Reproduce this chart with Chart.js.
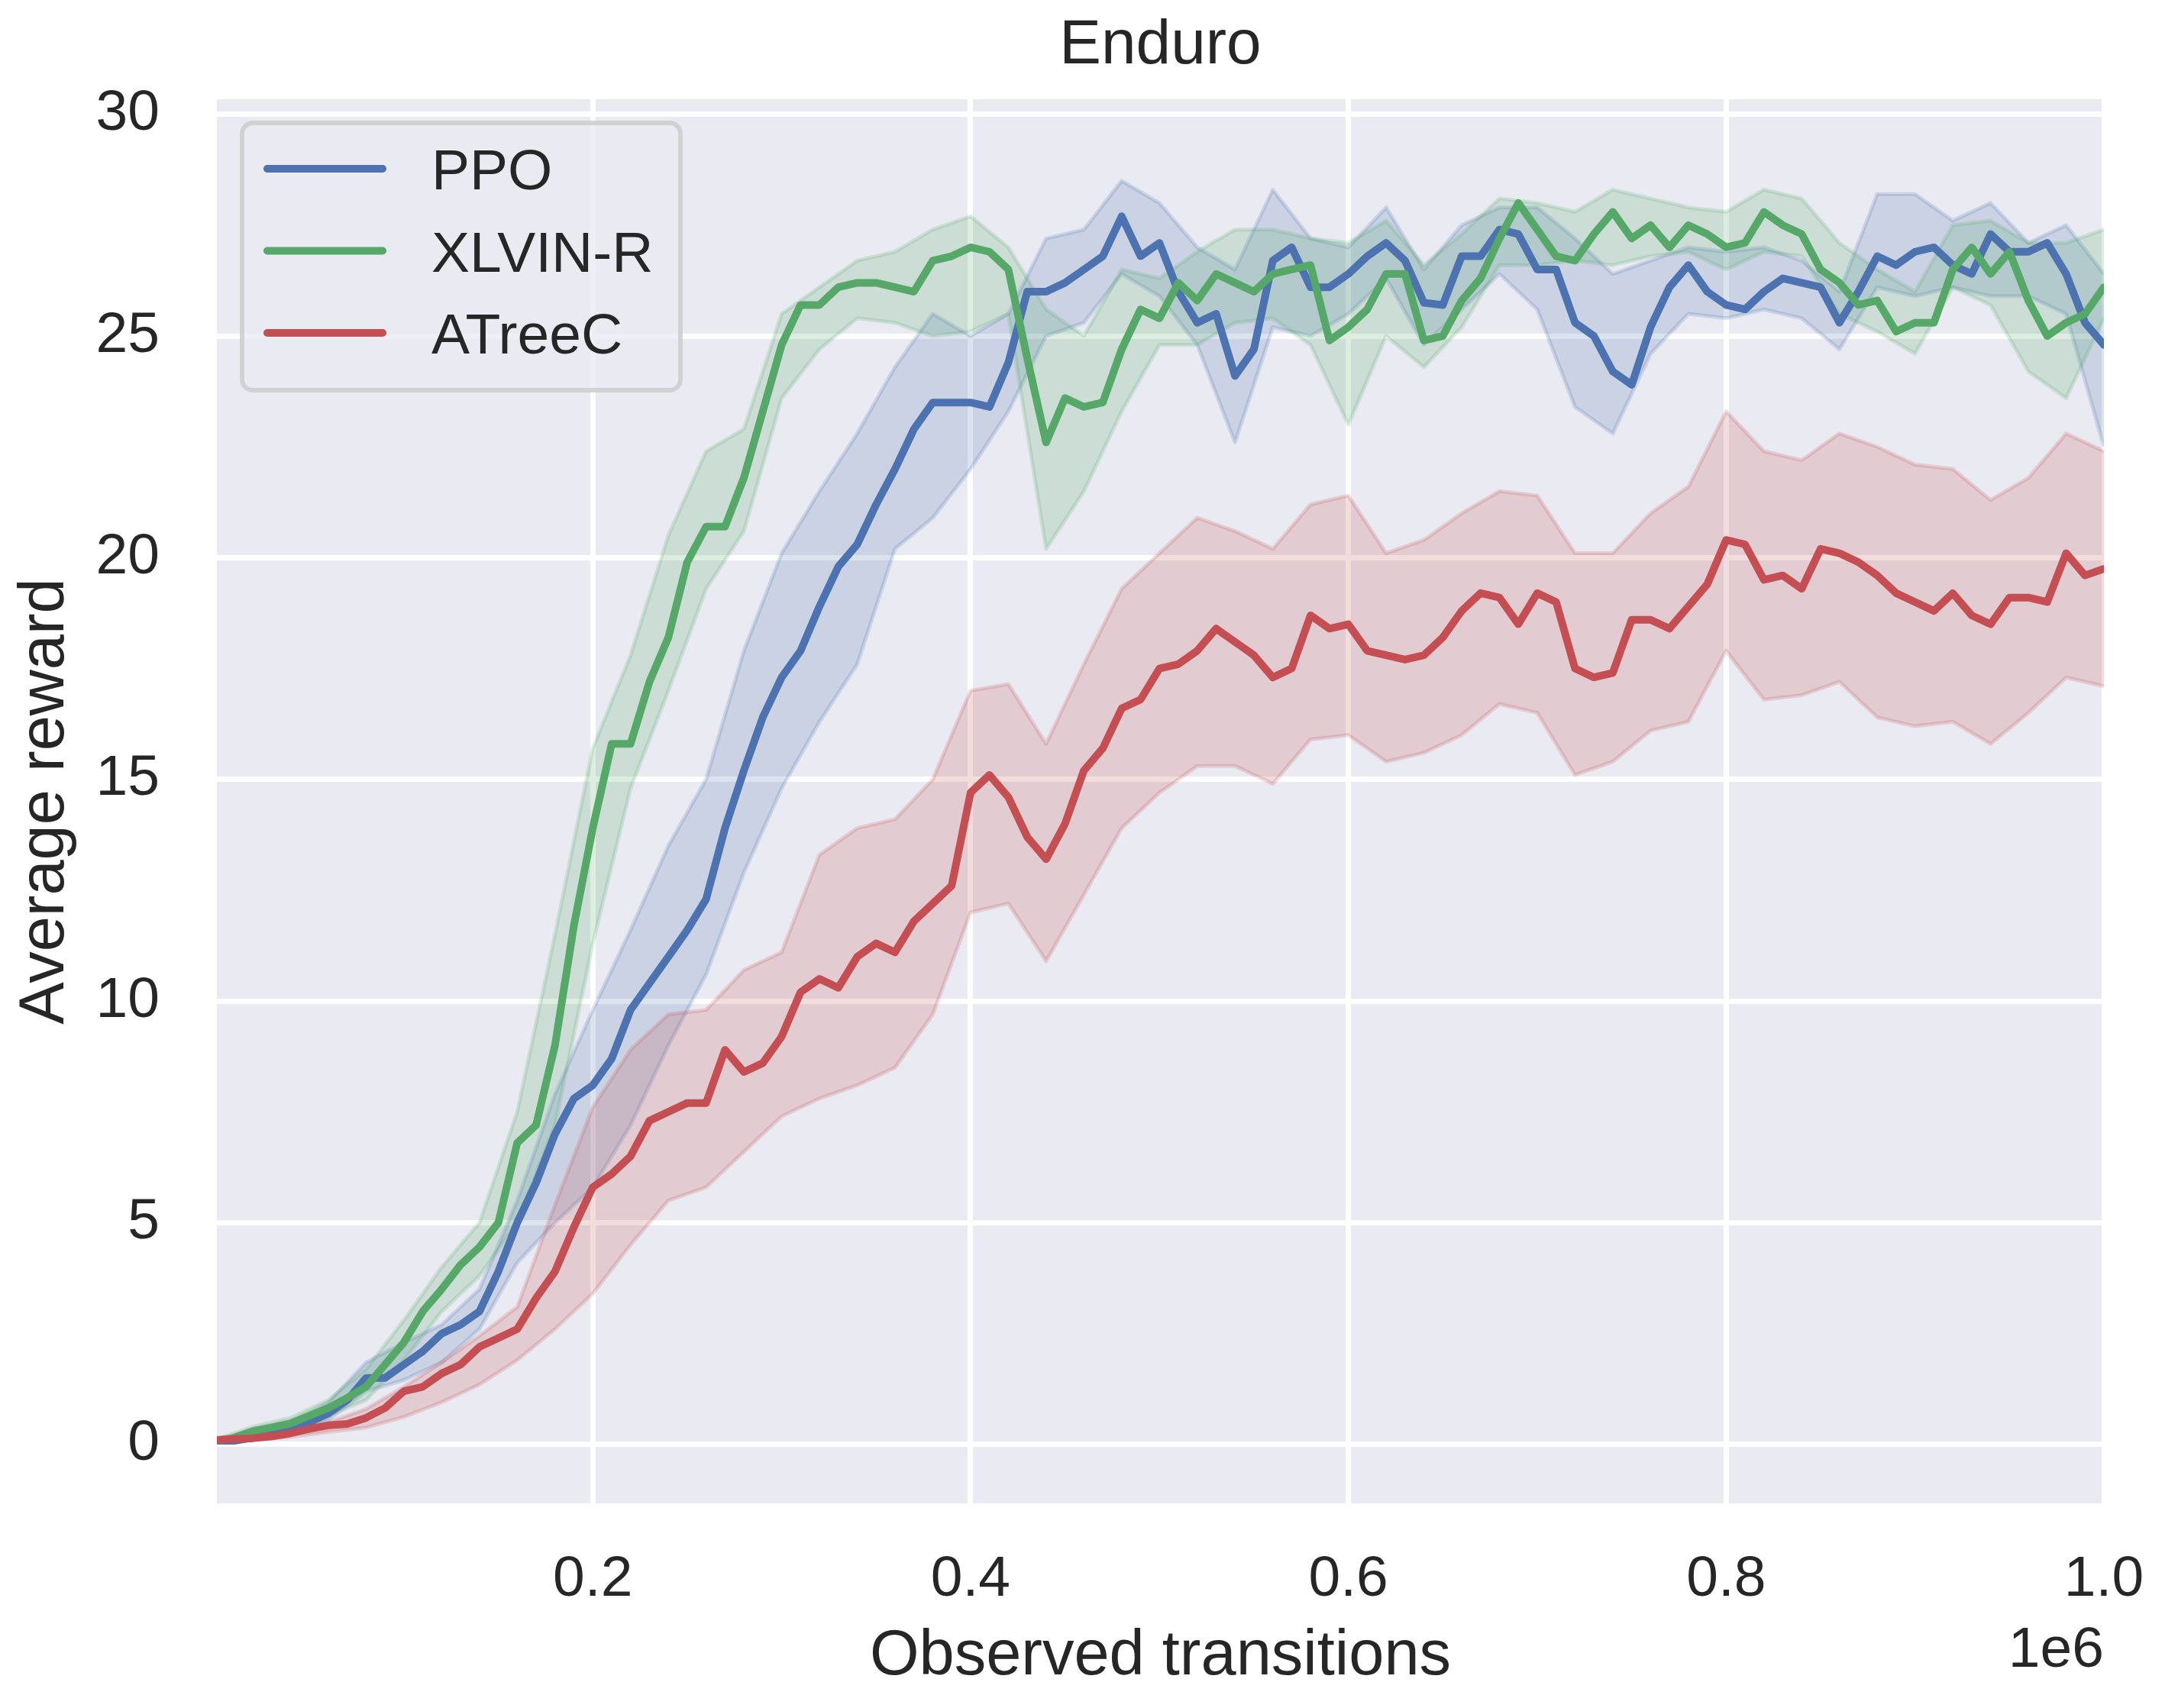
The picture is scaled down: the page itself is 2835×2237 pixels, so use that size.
<!DOCTYPE html>
<html>
<head>
<meta charset="utf-8">
<script src="https://cdn.jsdelivr.net/npm/chart.js@4.4.1/dist/chart.umd.min.js"></script>
<style>
  html, body { margin: 0; padding: 0; background: #ffffff; }
  #wrap { width: 2835px; height: 2237px; }
</style>
</head>
<body>
<div id="wrap"><canvas id="chart" width="2835" height="2237"></canvas></div>
<script>
// x positions of the curves, in thousands of observed transitions
const meanSteps = [1, 10, 20, 30, 40, 50, 60, 70, 80, 90,
  100, 110, 120, 130, 140, 150, 160, 170, 180, 190,
  200, 210, 220, 230, 240, 250, 260, 270, 280, 290,
  300, 310, 320, 330, 340, 350, 360, 370, 380, 390,
  400, 410, 420, 430, 440, 450, 460, 470, 480, 490,
  500, 510, 520, 530, 540, 550, 560, 570, 580, 590,
  600, 610, 620, 630, 640, 650, 660, 670, 680, 690,
  700, 710, 720, 730, 740, 750, 760, 770, 780, 790,
  800, 810, 820, 830, 840, 850, 860, 870, 880, 890,
  900, 910, 920, 930, 940, 950, 960, 970, 980, 990,
  1000];
const bandSteps = [1, 20, 40, 60, 80, 100, 120, 140, 160, 180,
  200, 220, 240, 260, 280, 300, 320, 340, 360, 380,
  400, 420, 440, 460, 480, 500, 520, 540, 560, 580,
  600, 620, 640, 660, 680, 700, 720, 740, 760, 780,
  800, 820, 840, 860, 880, 900, 920, 940, 960, 980,
  1000];

const seriesNames = ["PPO", "XLVIN-R", "ATreeC"];

const ppoMean = [0.08, 0.08, 0.15, 0.25, 0.33, 0.5, 0.7, 1.0, 1.5, 1.5,
  1.8, 2.1, 2.5, 2.7, 3.0, 3.9, 5.0, 5.9, 7.0, 7.8,
  8.1, 8.7, 9.8, 10.4, 11.0, 11.6, 12.3, 13.9, 15.2, 16.4,
  17.3, 17.9, 18.9, 19.8, 20.3, 21.2, 22.0, 22.9, 23.5, 23.5,
  23.5, 23.4, 24.4, 26.0, 26.0, 26.2, 26.5, 26.8, 27.7, 26.8,
  27.1, 26.0, 25.3, 25.5, 24.1, 24.7, 26.7, 27.0, 26.1, 26.1,
  26.4, 26.8, 27.1, 26.7, 25.75, 25.7, 26.8, 26.8, 27.4, 27.3,
  26.5, 26.5, 25.3, 25.0, 24.2, 23.9, 25.2, 26.1, 26.6, 26.0,
  25.7, 25.6, 26.0, 26.3, 26.2, 26.1, 25.3, 26.0, 26.8, 26.6,
  26.9, 27.0, 26.6, 26.4, 27.3, 26.9, 26.9, 27.1, 26.4, 25.3,
  24.8];
const ppoHigh = [0.12, 0.22, 0.45, 0.95, 1.85, 2.3, 2.7, 3.5, 5.5, 7.9,
  9.8, 11.6, 13.5, 15.0, 17.9, 20.1, 21.5, 22.8, 24.3, 25.5,
  25.0, 25.5, 27.2, 27.4, 28.5, 28.0, 27.0, 26.5, 28.3, 27.2,
  27.0, 27.9, 26.5, 27.5, 27.9, 27.9, 27.2, 26.4, 26.7, 27.0,
  26.9, 27.0, 26.7, 26.0, 28.2, 28.2, 27.6, 28.0, 27.1, 27.5,
  26.4];
const ppoLow = [0.04, 0.1, 0.22, 0.55, 1.2, 1.45, 1.85, 2.6, 4.1, 5.0,
  5.8, 7.2, 9.0, 10.6, 12.9, 14.8, 16.3, 17.6, 20.2, 20.9,
  22.0, 23.3, 25.0, 25.3, 26.4, 25.9, 24.8, 22.6, 25.2, 25.0,
  25.5, 26.3, 24.8, 25.6, 26.4, 25.6, 23.4, 22.8, 24.6, 25.5,
  25.4, 25.6, 25.4, 24.7, 26.1, 25.9, 26.1, 25.9, 25.9, 25.5,
  22.5];

const xlvinMean = [0.08, 0.15, 0.3, 0.38, 0.47, 0.65, 0.82, 1.05, 1.3, 1.8,
  2.3, 3.0, 3.5, 4.05, 4.45, 5.0, 6.8, 7.2, 9.0, 11.7,
  13.9, 15.8, 15.8, 17.2, 18.2, 19.9, 20.7, 20.7, 21.8, 23.3,
  24.8, 25.7, 25.7, 26.1, 26.2, 26.2, 26.1, 26.0, 26.7, 26.8,
  27.0, 26.9, 26.5, 24.5, 22.6, 23.6, 23.4, 23.5, 24.7, 25.6,
  25.4, 26.2, 25.8, 26.4, 26.2, 26.0, 26.4, 26.5, 26.6, 24.9,
  25.2, 25.6, 26.4, 26.4, 24.9, 25.0, 25.8, 26.3, 27.2, 28.0,
  27.4, 26.8, 26.7, 27.3, 27.8, 27.2, 27.5, 27.0, 27.5, 27.3,
  27.0, 27.1, 27.8, 27.5, 27.3, 26.5, 26.2, 25.7, 25.8, 25.1,
  25.3, 25.3, 26.5, 27.0, 26.4, 26.9, 25.8, 25.0, 25.3, 25.5,
  26.1];
const xlvinHigh = [0.12, 0.4, 0.6, 1.0, 1.7, 2.8, 4.0, 5.0, 7.5, 11.5,
  15.7, 17.8, 20.5, 22.4, 22.9, 25.5, 26.1, 26.7, 26.9, 27.4,
  27.7, 27.0, 25.6, 25.0, 26.5, 26.3, 26.9, 27.4, 27.4, 27.2,
  27.1, 27.6, 26.6, 27.3, 28.1, 28.0, 27.8, 28.3, 28.1, 27.9,
  27.8, 28.3, 28.1, 27.1, 26.5, 26.0, 27.5, 27.6, 27.1, 27.1,
  27.4];
const xlvinLow = [0.04, 0.2, 0.35, 0.65, 1.0, 1.9, 3.0, 3.8, 5.0, 7.2,
  11.3, 14.8, 17.0, 19.3, 20.6, 23.6, 24.7, 25.4, 25.3, 25.0,
  25.1, 25.5, 20.2, 21.5, 23.3, 24.8, 24.8, 25.3, 25.4, 24.8,
  23.0, 25.0, 24.3, 25.2, 26.6, 26.6, 26.7, 26.6, 26.8, 26.9,
  26.5, 26.9, 26.8, 25.5, 25.1, 24.6, 26.1, 25.7, 24.2, 23.6,
  25.4];

const atreecMean = [0.1, 0.12, 0.14, 0.18, 0.25, 0.35, 0.43, 0.46, 0.6, 0.82,
  1.2, 1.3, 1.6, 1.8, 2.2, 2.4, 2.6, 3.3, 3.9, 4.9,
  5.8, 6.1, 6.5, 7.3, 7.5, 7.7, 7.7, 8.9, 8.4, 8.6,
  9.2, 10.2, 10.5, 10.3, 11.0, 11.3, 11.1, 11.8, 12.2, 12.6,
  14.7, 15.1, 14.6, 13.7, 13.2, 14.0, 15.2, 15.7, 16.6, 16.8,
  17.5, 17.6, 17.9, 18.4, 18.1, 17.8, 17.3, 17.5, 18.7, 18.4,
  18.5, 17.9, 17.8, 17.7, 17.8, 18.2, 18.8, 19.2, 19.1, 18.5,
  19.2, 19.0, 17.5, 17.3, 17.4, 18.6, 18.6, 18.4, 18.9, 19.4,
  20.4, 20.3, 19.5, 19.6, 19.3, 20.2, 20.1, 19.9, 19.6, 19.2,
  19.0, 18.8, 19.2, 18.7, 18.5, 19.1, 19.1, 19.0, 20.1, 19.6,
  19.75];
const atreecHigh = [0.15, 0.2, 0.33, 0.5, 0.8, 1.3, 1.85, 2.45, 3.1, 5.4,
  7.6, 8.9, 9.7, 9.8, 10.7, 11.1, 13.3, 13.9, 14.1, 15.0,
  17.0, 17.15, 15.8, 17.6, 19.3, 20.1, 20.9, 20.6, 20.2, 21.2,
  21.4, 20.1, 20.4, 21.0, 21.5, 21.4, 20.1, 20.1, 21.0, 21.6,
  23.3, 22.4, 22.2, 22.8, 22.5, 22.1, 22.0, 21.3, 21.8, 22.8,
  22.4];
const atreecLow = [0.05, 0.1, 0.17, 0.28, 0.38, 0.62, 0.95, 1.35, 1.9, 2.6,
  3.4, 4.5, 5.5, 5.8, 6.6, 7.4, 7.8, 8.1, 8.5, 9.7,
  12.0, 12.2, 10.9, 12.4, 13.9, 14.7, 15.3, 15.3, 14.9, 15.9,
  16.0, 15.4, 15.6, 16.0, 16.7, 16.5, 15.1, 15.4, 16.1, 16.3,
  17.9, 16.8, 16.9, 17.2, 16.4, 16.2, 16.3, 15.8, 16.5, 17.3,
  17.1];

const xTicks = [200000, 400000, 600000, 800000, 1000000];
const yTicks = [0, 5, 10, 15, 20, 25, 30];

const colors = ["76,114,176", "85,168,104", "196,78,82"];
const textColor = "#262626";
const fontFamily = "'Liberation Sans', Arial, sans-serif";

const toPoints = (steps, vals) => steps.map((s, i) => ({ x: s * 1000, y: vals[i] }));

const meanSet = (label, vals, col, order) => ({
  label: label,
  data: toPoints(meanSteps, vals),
  borderColor: `rgb(${col})`,
  backgroundColor: `rgb(${col})`,
  borderWidth: 10,
  borderCapStyle: "round",
  borderJoinStyle: "round",
  pointRadius: 0,
  tension: 0,
  fill: false,
  order: order,
});
const bandSet = (vals, col, order, target) => ({
  label: "",
  data: toPoints(bandSteps, vals),
  borderColor: `rgba(${col},0.2)`,
  backgroundColor: `rgba(${col},0.2)`,
  borderWidth: 5,
  borderJoinStyle: "round",
  pointRadius: 0,
  tension: 0,
  fill: target === undefined ? false : target,
  order: order,
});

const areaBackground = {
  id: "areaBackground",
  beforeDraw(chart) {
    const { ctx, chartArea: { left, top, width, height } } = chart;
    ctx.save();
    ctx.fillStyle = "#EAEAF2";
    ctx.fillRect(left, top, width, height);
    ctx.restore();
  },
};

const textDeco = {
  id: "textDeco",
  afterDraw(chart) {
    const { ctx, chartArea: { left, right, top, bottom } } = chart;
    const midX = (left + right) / 2;
    ctx.save();
    ctx.fillStyle = textColor;
    ctx.textAlign = "center";
    ctx.textBaseline = "alphabetic";
    ctx.font = `82px ${fontFamily}`;
    ctx.fillText("Enduro", midX, 83);
    ctx.font = `83px ${fontFamily}`;
    ctx.fillText("Observed transitions", midX, 2193);
    ctx.save();
    ctx.translate(83, (top + bottom) / 2);
    ctx.rotate(-Math.PI / 2);
    ctx.fillText("Average reward", 0, 0);
    ctx.restore();
    ctx.textAlign = "right";
    ctx.font = `75px ${fontFamily}`;
    ctx.fillText("1e6", right, 2183);
    ctx.restore();
  },
};

const boxLegend = {
  id: "boxLegend",
  afterDraw(chart) {
    const { ctx, chartArea: { left, top } } = chart;
    const x0 = left + 33, y0 = top + 31, w = 574, h = 350, r = 14;
    ctx.save();
    ctx.beginPath();
    ctx.roundRect(x0, y0, w, h, r);
    ctx.fillStyle = "rgba(234,234,242,0.8)";
    ctx.fill();
    ctx.lineWidth = 6;
    ctx.strokeStyle = "rgba(204,204,204,0.85)";
    ctx.stroke();
    ctx.font = `75px ${fontFamily}`;
    ctx.textAlign = "left";
    ctx.textBaseline = "alphabetic";
    seriesNames.forEach((name, i) => {
      const yy = y0 + 60 + i * 107.5;
      ctx.beginPath();
      ctx.moveTo(x0 + 33, yy);
      ctx.lineTo(x0 + 184, yy);
      ctx.lineWidth = 10;
      ctx.lineCap = "round";
      ctx.strokeStyle = `rgb(${colors[i]})`;
      ctx.stroke();
      ctx.fillStyle = textColor;
      ctx.fillText(name, x0 + 248, yy + 27);
    });
    ctx.restore();
  },
};

const gridOpts = { color: "#ffffff", lineWidth: 7, drawTicks: false };

// keep the plot box where the reference has it: labels may overhang
const noOverhang = (s) => {
  s.paddingLeft = 0;
  s.paddingRight = 0;
  s.paddingTop = 0;
  s.paddingBottom = 0;
};

new Chart(document.getElementById("chart"), {
  type: "line",
  data: {
    datasets: [
      meanSet(seriesNames[0], ppoMean, colors[0], 2),
      meanSet(seriesNames[1], xlvinMean, colors[1], 1),
      meanSet(seriesNames[2], atreecMean, colors[2], 0),
      bandSet(ppoHigh, colors[0], 5, 4),
      bandSet(ppoLow, colors[0], 5),
      bandSet(xlvinHigh, colors[1], 4, 6),
      bandSet(xlvinLow, colors[1], 4),
      bandSet(atreecHigh, colors[2], 3, 8),
      bandSet(atreecLow, colors[2], 3),
    ],
  },
  options: {
    responsive: false,
    animation: false,
    devicePixelRatio: 1,
    layout: { padding: { top: 130, right: 80, bottom: 0, left: 0 } },
    plugins: {
      legend: { display: false },
      title: { display: false },
      tooltip: { enabled: false },
    },
    scales: {
      x: {
        type: "linear",
        min: 1000,
        max: 1000000,
        grid: gridOpts,
        border: { display: false },
        ticks: {
          color: textColor,
          font: { family: fontFamily, size: 75 },
          padding: 55,
          autoSkip: false,
          maxRotation: 0,
          callback: (v) => (v / 1e6).toFixed(1),
        },
        afterBuildTicks: (s) => { s.ticks = xTicks.map((v) => ({ value: v })); },
        afterFit: (s) => { s.height = 268; noOverhang(s); },
      },
      y: {
        type: "linear",
        min: -1.33,
        max: 30.34,
        grid: gridOpts,
        border: { display: false },
        ticks: {
          color: textColor,
          font: { family: fontFamily, size: 75 },
          padding: 75,
          callback: (v) => String(v),
        },
        afterBuildTicks: (s) => { s.ticks = yTicks.map((v) => ({ value: v })); },
        afterFit: (s) => { s.width = 284; noOverhang(s); },
      },
    },
  },
  plugins: [areaBackground, textDeco, boxLegend],
});
</script>
</body>
</html>
